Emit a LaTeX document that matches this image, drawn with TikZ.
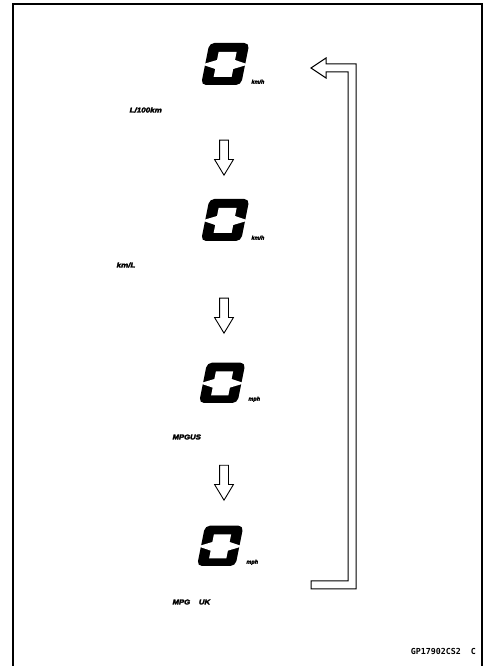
\documentclass[tikz,border=0pt]{standalone}
\usepackage{fontspec}
\setsansfont{Liberation Sans}
\setmonofont{DejaVu Sans Mono}
\newfontfamily\dispfont[FakeBold=3.5,FakeSlant=0.2]{Liberation Sans Bold}
\usetikzlibrary{positioning,shapes.arrows}
\tikzset{
  modelbl/.style={font=\dispfont\fontsize{7}{8}\selectfont,inner sep=0pt,anchor=west},
  unitlbl/.style={font=\dispfont\fontsize{5.5}{6}\selectfont,inner sep=0pt,anchor=south west},
  codelbl/.style={font=\ttfamily\bfseries\fontsize{8.3}{9}\selectfont,inner sep=0pt,anchor=south east},
  nextarr/.style={draw,line width=0.9pt,single arrow,rotate=-90,minimum height=35pt,
    inner xsep=0pt,inner ysep=4pt,single arrow head extend=5pt,
    single arrow tip angle=62,single arrow head indent=0pt},
  loopline/.style={draw,line width=1pt,line join=miter},
  framestroke/.style={line width=2pt},
  segzero/.pic={
    \fill[rounded corners=5pt] (0,0) -- (40,0) -- (40,42) -- (0,42) -- cycle;
    \fill[white] (11,8) rectangle (29,33);
    \fill[white] (-1,19.8) -- (11,16) -- (29,16) -- (41,19.8) -- (41,21.2)
      -- (29,25) -- (11,25) -- (-1,21.2) -- cycle;
  },
}
\begin{document}
\begin{tikzpicture}[x=1pt,y=1pt]
\useasboundingbox (0,0) rectangle (483,666);
% frame
\draw[framestroke] (13,0) -- (13,662) -- (482,662) -- (482,0);

% display modes
\pic[xslant=0.2] at (201,581) {segzero};
\node[unitlbl] (unit1) at (251,582) {km/h};
\node[modelbl] (mode1) at (129,556) {\scalebox{1.15}[1]{L/100km}};

\pic[xslant=0.2] at (201,425) {segzero};
\node[unitlbl] (unit2) at (251,426) {km/h};
\node[modelbl] (mode2) at (116,401) {\scalebox{1.15}[1]{km/L}};

\pic[xslant=0.2,scale=0.96] at (199,263) {segzero};
\node[unitlbl] (unit3) at (248,264) {mph};
\node[modelbl] (mode3) at (172,229) {\scalebox{1.1}[1]{MPGUS}};

\pic[xslant=0.2,scale=0.96] at (197,100) {segzero};
\node[unitlbl] (unit4) at (246,101) {mph};
\node[modelbl] (mode4) at (172,64) {\scalebox{1.1}[1]{MPG\hspace{8pt}UK}};

% step arrows
\node[nextarr] (step1) at (224,512) {};
\node[nextarr] (step2) at (224,354) {};
\node[nextarr] (step3) at (224,187) {};

% return arrow
\coordinate (looptip) at (311,598);
\coordinate (loopend) at (311,81);
\draw[loopline] (looptip) -- ++(15,10) -- ++(0,-6) -- (356,602) -- (356,77)
  -- ([yshift=-4pt]loopend) -- ([yshift=4pt]loopend) -- (348,85) -- (348,594)
  -- (326,594) -- ++(0,-6) -- cycle;

\node[codelbl] (figcode) at (476,11) {GP17902CS2\ \ C};
\end{tikzpicture}
\end{document}
